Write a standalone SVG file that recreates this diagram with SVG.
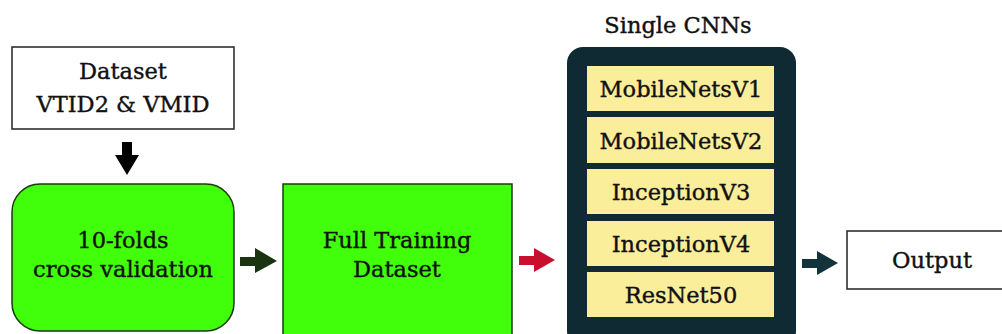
<svg xmlns="http://www.w3.org/2000/svg" width="1002" height="334" viewBox="0 0 1002 334">
<style>
text{font-family:"DejaVu Serif","Liberation Serif",serif;font-size:22.5px;fill:#111;stroke:#111;stroke-width:0.4;text-anchor:middle}
.white{fill:#fff;stroke:#222;stroke-width:1.5}
.green{fill:#41ff0a;stroke:#1a3a10;stroke-width:1.5}
.cell{fill:#fbee9a}
</style>
<rect width="1002" height="334" fill="#fff"/>
<g id="dataset">
<rect class="white" x="12" y="47" width="222" height="82"/>
<text x="123" y="79">Dataset</text>
<text x="123" y="112">VTID2 &amp; VMID</text>
</g>
<g id="cv">
<rect class="green" x="12" y="184" width="222" height="147" rx="28"/>
<text x="123" y="248">10-folds</text>
<text x="123" y="277">cross validation</text>
</g>
<g id="full">
<rect class="green" x="283" y="184" width="229" height="160"/>
<text x="397" y="248">Full Training</text>
<text x="397" y="277">Dataset</text>
</g>
<g id="cnns">
<text x="678" y="33">Single CNNs</text>
<rect x="567" y="47" width="229" height="300" rx="16" fill="#0f2a33"/>
<rect class="cell" x="587" y="66" width="187" height="45"/>
<text x="681" y="97">MobileNetsV1</text>
<rect class="cell" x="587" y="117" width="187" height="46"/>
<text x="681" y="149">MobileNetsV2</text>
<rect class="cell" x="587" y="169" width="187" height="45"/>
<text x="681" y="200">InceptionV3</text>
<rect class="cell" x="587" y="221" width="187" height="45"/>
<text x="681" y="252">InceptionV4</text>
<rect class="cell" x="587" y="272" width="187" height="45"/>
<text x="681" y="303">ResNet50</text>
</g>
<g id="output">
<rect class="white" x="847" y="231" width="170" height="58"/>
<text x="932" y="268">Output</text>
</g>
<g id="connectors">
<polygon fill="#000" points="122,142 132,142 132,155 139,155 127,175 115,155 122,155"/>
<polygon fill="#1a3311" points="240,257 255,257 255,248 277,261 255,273 255,266 240,266"/>
<polygon fill="#c8102e" points="519,256 534,256 534,248 555,260 534,272 534,265 519,265"/>
<polygon fill="#12323c" points="802,259 817,259 817,251 838,263 817,275 817,268 802,268"/>
</g>
</svg>
